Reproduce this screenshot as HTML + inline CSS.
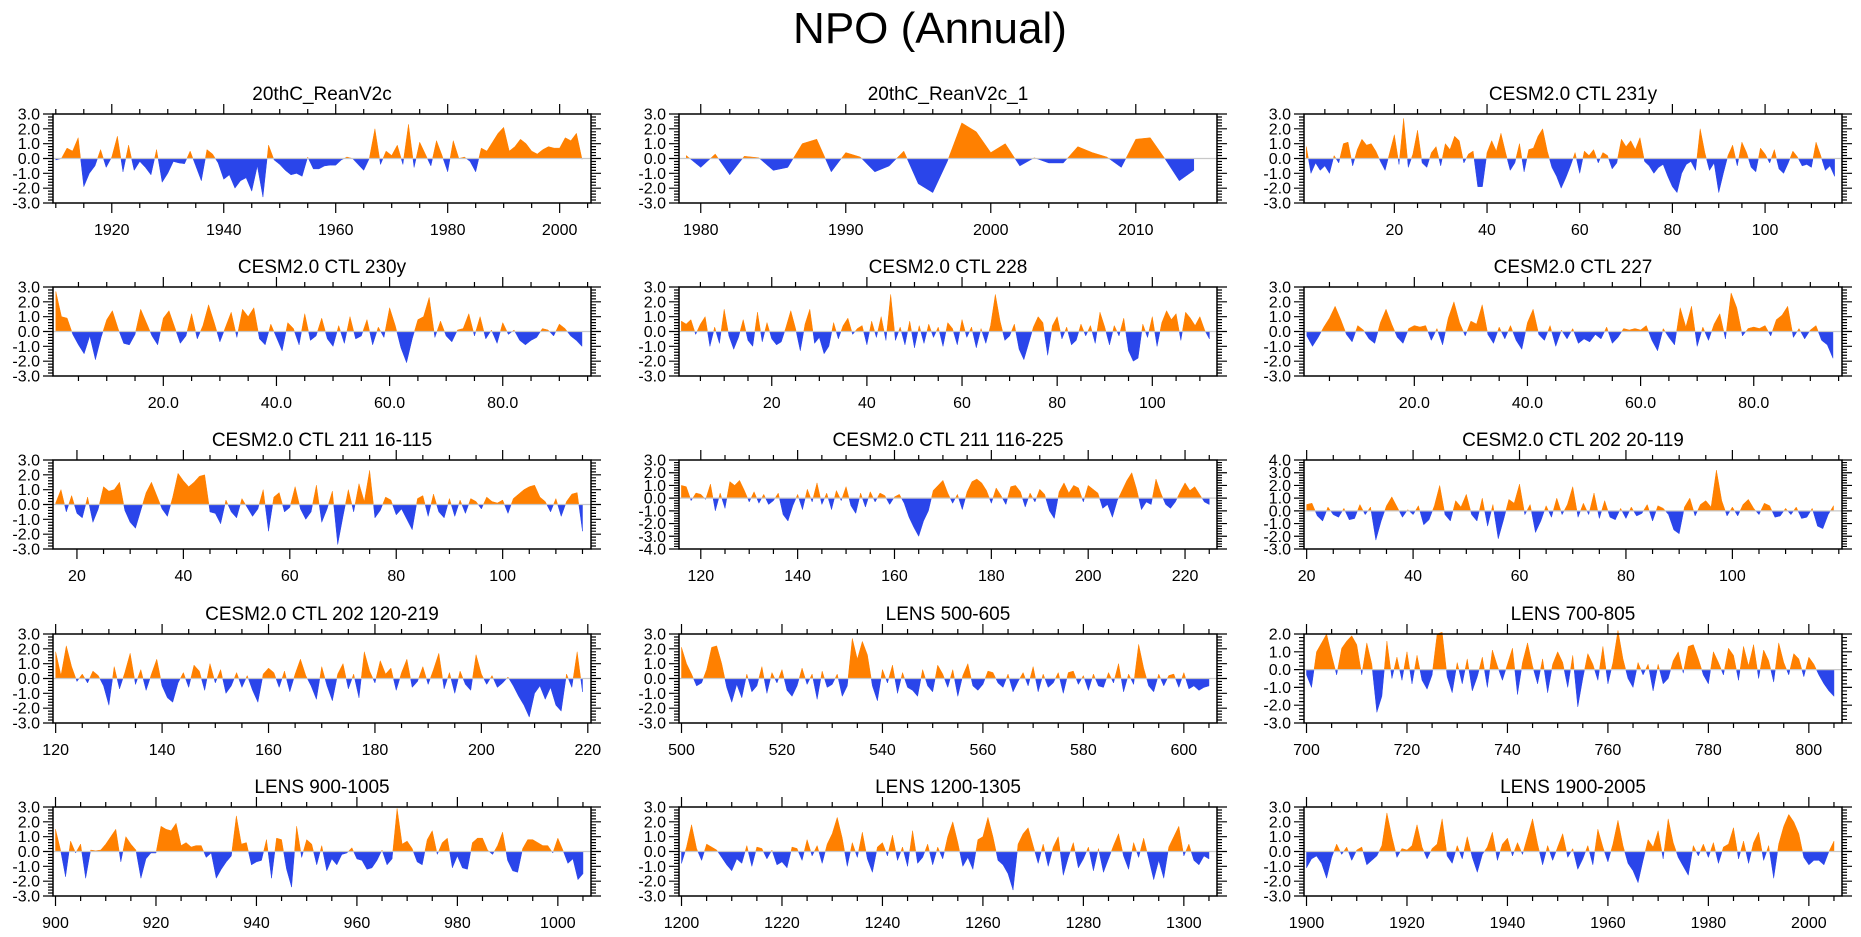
<!DOCTYPE html>
<html><head><meta charset="utf-8"><title>NPO (Annual)</title>
<style>html,body{margin:0;padding:0;background:#fff}svg{display:block}text{font-family:"Liberation Sans",Arial,sans-serif;fill:#000}</style>
</head><body>
<svg id="chart" width="1861" height="937" viewBox="0 0 1861 937" xmlns="http://www.w3.org/2000/svg">
<rect width="1861" height="937" fill="#fff"/>
<text x="930" y="43" font-size="44" text-anchor="middle">NPO (Annual)</text>
</svg>
<script>
const panelTitles = ["20thC_ReanV2c","20thC_ReanV2c_1","CESM2.0 CTL 231y","CESM2.0 CTL 230y","CESM2.0 CTL 228","CESM2.0 CTL 227","CESM2.0 CTL 211 16-115","CESM2.0 CTL 211 116-225","CESM2.0 CTL 202 20-119","CESM2.0 CTL 202 120-219","LENS 500-605","LENS 700-805","LENS 900-1005","LENS 1200-1305","LENS 1900-2005"];
const panelStarts = [1910,1979,1,1,1,1,16,116,20,120,500,700,900,1200,1900];
const panelEnds = [2004,2014,115,94,112,94,115,225,119,219,605,805,1005,1305,2005];
const yMins = [-3,-3,-3,-3,-3,-3,-3,-4,-3,-3,-3,-3,-3,-3,-3];
const yMaxs = [3,3,3,3,3,3,3,3,4,3,3,2,3,3,3];
const xMajorTicks = [
 [1920,1940,1960,1980,2000],[1980,1990,2000,2010],[20,40,60,80,100],[20,40,60,80],[20,40,60,80,100],[20,40,60,80],
 [20,40,60,80,100],[120,140,160,180,200,220],[20,40,60,80,100],[120,140,160,180,200,220],[500,520,540,560,580,600],
 [700,720,740,760,780,800],[900,920,940,960,980,1000],[1200,1220,1240,1260,1280,1300],[1900,1920,1940,1960,1980,2000]];
const xTickDecimals = [0,0,0,1,0,1,0,0,0,0,0,0,0,0,0];
const xMinorSteps = [5,2,5,5,5,5,5,5,5,5,5,5,5,5,5];

const p1Values = [-0.1,0.0,0.7,0.5,1.4,-1.9,-1.0,-0.5,0.6,-0.6,0.1,1.5,-0.9,0.9,-0.8,-0.2,-0.6,-1.1,0.6,-1.6,-1.0,-0.2,-0.3,-0.35,0.5,-0.5,-1.5,0.6,0.3,-0.3,-1.4,-1.1,-2.0,-1.5,-1.3,-2.2,-0.5,-2.6,0.9,-0.1,-0.4,-0.8,-1.1,-1.0,-1.2,0.1,-0.7,-0.7,-0.5,-0.45,-0.45,-0.1,0.1,0.0,-0.4,-0.8,0.0,2.0,-0.4,0.5,0.2,0.9,-0.4,2.3,-0.6,1.1,0.3,-0.5,1.2,0.2,-0.9,1.2,0.0,0.1,-0.2,-0.9,0.7,0.5,1.1,1.7,2.1,0.5,0.8,1.3,1.0,0.5,0.3,0.6,0.8,0.7,0.7,1.4,1.2,1.7,-0.05];
const p2Values = [0.2,-0.6,0.3,-1.1,0.15,0.05,-0.8,-0.6,1.0,1.3,-0.9,0.4,0.1,-0.9,-0.5,0.5,-1.7,-2.3,-0.2,2.4,1.8,0.4,1.0,-0.5,0.05,-0.3,-0.3,0.8,0.4,0.1,-0.6,1.3,1.4,0.0,-1.5,-0.8];
const p3Values = [0.8,-1.0,-0.3,-0.8,-0.5,-1.0,0.2,-0.3,1.0,1.1,-0.5,0.6,1.3,0.9,1.0,0.5,-0.2,-0.8,0.4,1.6,-0.4,2.7,-0.6,0.3,1.9,-0.3,-0.6,0.4,0.8,-0.5,1.0,0.6,1.5,1.2,-0.3,0.3,0.5,-1.9,-1.9,0.4,1.2,0.5,1.7,0.4,-0.8,-0.3,1.0,-0.9,0.6,0.7,1.5,2.0,0.5,-0.6,-1.2,-2.0,-1.3,-0.5,0.4,-1.0,0.5,0.2,0.6,-0.3,0.4,0.2,-0.7,-0.3,1.3,0.8,1.2,0.6,1.4,-0.2,-0.5,-1.0,-0.6,-0.4,-1.2,-1.9,-2.3,-1.0,-0.4,-0.2,-0.8,2.0,0.4,-0.8,-0.3,-2.3,-1.0,0.2,0.9,-0.5,1.1,0.4,-0.6,-0.9,0.7,0.3,-0.3,0.6,-0.7,-1.0,-0.3,0.5,0.1,-0.5,-0.4,-0.6,1.1,0.2,-0.8,-0.5,-1.2];
const p4Values = [2.7,1.0,0.9,-0.2,-0.9,-1.5,-0.3,-1.9,-0.4,0.8,1.4,0.2,-0.8,-0.9,-0.2,1.5,0.6,-0.3,-0.9,0.9,1.4,0.3,-0.8,-0.3,1.2,-0.5,0.4,1.8,0.6,-0.7,0.3,1.3,-0.4,1.5,1.0,1.6,-0.5,-0.9,0.5,-0.4,-1.3,0.6,0.2,-0.9,1.2,-0.6,-0.3,0.9,-0.5,-1.0,0.4,-0.8,1.0,-0.5,-0.3,0.8,-0.9,0.3,-0.4,1.6,0.4,-1.1,-2.1,-0.5,0.8,1.0,2.3,-0.4,0.7,-0.3,-0.7,0.1,0.2,1.2,-0.3,1.0,-0.5,0.1,-0.8,0.6,-0.2,0.1,-0.6,-0.9,-0.6,-0.4,0.2,0.1,-0.3,0.5,0.2,-0.3,-0.6,-1.0];
const p5Values = [0.7,0.5,0.8,-0.2,0.5,1.0,-1.0,0.3,-0.8,1.5,-0.3,-1.2,-0.4,0.8,-0.6,-1.0,1.3,-0.7,0.6,-0.5,-0.9,-0.7,0.3,1.4,0.2,-1.3,0.5,1.5,-0.8,-0.4,-1.5,-1.0,0.6,-0.5,0.4,0.9,-0.2,0.2,0.4,-0.9,0.7,-0.4,1.0,-0.6,2.5,-0.6,0.3,-0.9,0.7,-1.1,0.4,-0.8,0.5,-0.4,0.3,-1.0,0.6,0.2,-0.9,0.8,-0.4,0.3,-1.1,0.2,-0.8,0.4,2.5,0.7,-0.6,-0.3,0.5,-1.2,-1.9,-0.8,0.3,1.0,0.6,-1.6,0.4,1.0,-0.5,0.3,-0.9,-0.6,0.5,-0.3,0.4,-0.8,1.3,0.3,-0.9,0.4,-0.3,0.9,-1.3,-2.0,-1.8,0.5,-0.4,1.0,-1.0,0.6,1.4,0.8,1.2,-0.6,1.3,0.9,0.4,1.0,0.1,-0.5];
const p6Values = [-0.3,-1.0,-0.4,0.3,0.9,1.7,0.8,-0.2,-0.7,0.4,0.1,-0.5,-0.8,0.6,1.5,0.5,-0.4,-0.8,0.2,0.4,0.3,0.4,-0.6,0.2,-0.9,0.9,2.0,0.6,-0.3,0.7,0.5,1.8,-0.2,-0.8,0.3,-0.5,0.4,-0.6,-1.2,0.6,1.5,-0.2,-0.6,0.4,-1.0,0.1,-0.5,0.2,-0.8,-0.5,-0.7,-0.2,-0.5,0.3,-0.8,-0.4,0.2,0.1,0.2,0.1,0.4,-0.6,-1.3,0.2,-0.4,-0.9,1.6,0.3,1.7,-1.0,0.3,-0.6,0.5,1.2,-0.5,2.6,1.6,-0.3,0.2,0.3,0.2,0.4,-0.3,0.8,1.1,1.7,-0.4,0.2,-0.5,0.1,0.4,-0.6,-0.9,-1.8];
const p7Values = [0.1,1.0,-0.5,0.6,-0.6,-0.9,0.5,-1.2,-0.3,1.2,0.9,1.0,1.5,-0.4,-1.2,-1.6,-0.4,0.8,1.5,0.6,-0.3,-0.8,0.5,2.1,1.6,1.2,1.5,1.9,2.0,-0.5,-0.6,-1.3,0.3,-0.5,-0.9,0.4,-0.2,-0.8,-0.3,1.0,-1.8,0.5,0.8,-0.5,-0.2,1.2,-0.3,-1.0,-0.5,1.3,-1.2,-0.3,0.9,-2.7,-0.8,1.0,-0.5,1.4,0.2,2.3,-0.9,-0.4,0.5,0.3,-0.7,-0.3,-1.0,-1.7,0.4,0.6,-0.8,0.7,-0.5,-0.9,0.4,-0.8,0.3,-0.6,0.4,0.2,-0.3,0.5,0.2,0.1,0.3,-0.6,0.4,0.7,1.0,1.2,1.3,0.5,0.2,-0.5,0.4,-0.8,0.2,0.7,0.8,-1.8];
const p8Values = [1.0,0.9,-0.2,0.4,0.3,-0.1,1.1,-1.0,0.4,-0.8,1.3,1.0,1.4,0.6,-0.3,0.5,-0.4,0.3,-0.5,-0.2,0.4,-1.3,-1.8,-0.6,0.3,-0.9,0.7,-0.3,1.2,-0.5,0.4,-0.9,0.6,-0.2,0.9,-0.6,-1.2,0.4,-0.7,0.5,-0.3,0.4,0.2,-0.5,0.1,0.3,-0.4,-1.5,-2.3,-3.0,-1.8,-1.0,0.6,1.0,1.4,0.4,-0.4,0.3,-0.9,0.5,1.3,1.5,1.2,0.6,-0.4,0.8,0.2,-0.5,0.9,1.0,0.5,-0.7,0.4,-0.3,0.7,0.3,-1.0,-1.6,0.5,1.2,0.4,1.0,0.8,-0.3,1.0,0.7,0.4,-0.8,-0.5,-1.5,-0.2,0.6,1.4,2.0,0.7,-0.9,-0.3,-0.5,1.5,0.4,-0.5,-0.8,-0.3,0.5,1.2,0.6,0.9,0.3,-0.3,-0.5];
const p9Values = [0.5,0.6,-0.4,-0.8,0.3,-0.3,-0.5,0.2,-0.7,-0.6,0.5,-0.3,0.3,-2.3,-0.8,0.4,1.1,0.3,-0.5,0.1,-0.3,0.4,-1.1,-0.7,0.4,2.0,-0.3,-0.8,0.8,0.3,1.3,-0.3,-0.8,1.0,-1.2,0.5,-2.2,-0.7,0.9,0.6,2.1,-0.3,0.5,-1.7,-0.8,0.4,-0.5,1.0,-0.3,0.5,1.9,-0.5,0.6,-0.3,1.4,-0.6,0.8,-0.5,-0.7,0.2,-0.6,0.3,-0.4,-0.2,0.5,-0.8,0.4,0.2,-0.3,-1.5,-1.8,0.3,1.0,-0.4,0.5,0.8,0.3,3.2,0.8,-0.4,0.3,-0.4,0.5,0.9,0.2,-0.3,0.6,0.4,-0.5,-0.4,0.2,-0.3,0.3,-0.6,-0.5,0.2,-1.2,-1.4,-0.3,0.4];
const p10Values = [1.8,0.2,2.2,0.8,-0.2,0.3,-0.3,0.5,0.2,-0.5,-1.8,0.8,-0.7,0.4,1.7,-0.4,0.6,-0.8,0.3,1.3,-0.5,-1.3,-1.6,-0.3,0.4,-0.6,0.9,0.5,-0.8,1.0,-0.3,0.6,-1.0,-0.5,0.4,-0.6,0.2,-0.8,-1.6,0.3,0.7,0.4,-0.6,0.5,-0.9,0.3,1.3,0.2,-0.5,-1.4,0.8,-0.5,-1.5,0.3,1.0,-0.7,0.3,-1.3,1.8,0.5,-0.3,1.2,0.3,0.7,-0.8,0.4,1.3,-0.6,-0.2,0.8,-0.4,0.6,1.7,-0.7,0.4,-1.0,0.5,-0.4,-0.8,1.6,0.3,-0.4,0.2,-0.6,-0.3,0.1,-0.5,-1.2,-1.8,-2.6,-1.0,-0.5,-1.4,-0.6,-1.8,-2.2,0.3,-0.6,1.8,-0.9];
const p11Values = [2.1,1.0,0.3,-0.5,-0.3,0.6,2.1,2.2,1.0,-0.6,-1.6,-0.4,-1.3,0.3,-0.9,-0.5,0.8,-1.0,0.4,-0.3,0.6,-0.8,-1.2,-0.5,0.7,-0.4,0.3,-1.4,0.5,-0.6,-0.4,0.3,-1.2,-0.5,2.7,1.3,2.5,1.6,-0.5,-1.5,0.6,-0.3,0.9,-1.0,0.4,-0.6,-0.8,-1.2,0.6,-0.5,-0.9,0.9,0.3,-0.6,0.6,-1.2,0.2,1.0,-0.5,-0.8,-0.4,0.5,0.4,-0.3,-0.6,0.3,-0.9,-0.2,0.4,-0.5,0.8,-0.9,0.3,-0.6,-0.3,0.4,-1.0,0.4,0.5,-0.4,0.2,-0.8,0.3,-0.5,-0.6,0.4,-0.3,1.0,-0.9,0.3,-0.4,2.3,0.7,-0.5,-0.9,0.3,-0.5,0.2,0.3,-0.6,0.4,-0.7,-0.5,-0.8,-0.6,-0.5];
const p12Values = [-0.3,-1.0,1.0,1.5,2.0,0.8,-0.3,1.2,1.6,1.9,1.4,-0.3,1.5,0.3,-2.4,-1.5,1.6,-0.5,0.7,-0.6,1.0,-0.8,0.8,-0.6,-1.1,-0.3,2.0,2.1,-0.4,-1.3,0.4,-0.8,0.6,-1.2,-0.4,0.7,-1.0,1.1,0.2,-0.6,0.3,1.2,-1.4,0.4,1.5,0.2,-0.8,0.6,-1.3,0.3,1.0,0.4,-1.0,0.8,-2.1,-0.5,0.9,0.3,-0.6,1.3,-0.8,0.4,2.2,0.6,-0.5,-1.0,0.4,-0.3,0.3,-1.2,0.3,-0.8,-0.5,0.5,1.0,-0.2,1.3,1.4,0.6,-0.3,-0.8,1.0,0.4,-0.3,1.2,0.8,-0.6,1.3,0.2,1.4,-0.5,1.1,0.5,-0.7,1.5,0.4,-0.3,0.9,0.6,-0.4,0.7,0.3,-0.3,-0.8,-1.2,-1.5];
const p13Values = [1.5,0.1,-1.7,0.7,-0.1,0.5,-1.8,0.1,0.05,0.1,0.5,1.0,1.5,-0.7,1.0,0.5,0.1,-1.8,-0.5,-0.1,-0.1,1.7,1.5,1.4,1.9,0.4,0.6,0.3,0.4,0.4,-0.4,-0.1,-1.8,-1.2,-0.7,-0.3,2.4,0.5,0.6,-0.9,-0.7,-0.6,0.8,-1.8,0.9,0.8,-1.2,-2.4,1.7,-0.4,0.8,0.5,-0.9,0.4,-1.3,-0.5,-0.9,-0.2,-0.1,0.25,-0.5,-0.6,-1.2,-1.1,-0.6,0.1,-0.9,-0.5,2.9,0.5,0.7,0.2,-0.7,-0.9,0.8,1.4,-0.2,0.6,0.9,-1.1,-0.3,-1.1,-1.2,0.6,0.9,0.9,0.1,-0.2,0.4,1.3,-0.6,-1.3,-1.4,0.2,0.8,0.8,0.6,0.4,0.4,-0.1,0.9,0.1,-0.8,-0.5,-1.9,-1.5];
const p14Values = [-0.8,0.3,1.8,0.2,-0.6,0.5,0.3,0.1,-0.4,-0.9,-1.3,-0.5,-0.8,0.4,-1.0,0.3,0.2,-0.5,0.1,-0.9,-0.7,-1.1,0.3,0.2,-0.6,0.8,-0.3,0.4,-0.8,0.5,1.2,2.3,0.9,-1.0,0.6,-0.4,1.3,-0.5,-1.4,0.3,0.6,-0.3,1.1,-0.6,0.3,-1.0,1.4,-0.8,-0.4,0.5,-0.9,0.3,-0.5,1.0,2.0,0.6,-1.0,-0.4,-1.2,0.8,1.0,2.3,1.0,-0.6,-0.9,-1.5,-2.6,0.5,1.2,1.6,0.4,-0.8,0.5,-1.0,0.3,1.0,-1.6,-0.4,0.6,-1.1,-0.5,0.3,-1.3,0.2,-1.4,-0.5,0.4,1.2,-0.3,-1.2,0.6,-0.4,0.9,-0.5,-1.9,-0.6,-1.8,0.3,1.0,1.7,-0.3,0.5,-0.6,-0.9,-0.3,-0.5];
const p15Values = [-1.1,-0.5,-0.3,-0.8,-1.8,-0.4,0.5,-0.2,0.3,-0.6,0.1,0.3,-0.9,-0.6,-0.3,0.4,2.6,1.0,-0.4,0.2,0.1,0.4,1.8,0.3,-0.5,0.2,0.5,2.2,-0.3,-0.8,0.4,-0.5,1.0,-0.4,-1.4,-0.2,0.3,1.3,-0.6,0.5,0.9,-0.3,0.6,-0.2,1.0,2.2,0.5,-0.9,0.4,-0.6,0.3,1.2,-0.4,0.2,-1.2,-0.5,0.4,-0.9,1.5,0.3,-0.7,0.5,2.1,0.4,-0.8,-1.3,-2.1,-0.6,0.8,0.3,1.4,-0.5,2.2,0.6,-0.4,-1.0,-1.6,0.4,-0.3,0.5,-0.4,0.6,-0.8,0.3,0.5,1.6,-0.5,0.7,-0.8,0.6,1.3,-0.6,0.4,-1.8,0.5,1.7,2.5,2.0,1.2,-0.4,-0.9,-0.6,-0.6,-0.9,0.0,0.7];
const panelValues = [p1Values,p2Values,p3Values,p4Values,p5Values,p6Values,p7Values,p8Values,p9Values,p10Values,p11Values,p12Values,p13Values,p14Values,p15Values];

const NS = "http://www.w3.org/2000/svg";
const svg = document.getElementById('chart');
const colLefts = [53,679,1304], rowTops = [114,287,460,634,807];
const PW = 538, PH = 89;
function mk(tag, attrs, parent){const e=document.createElementNS(NS,tag);for(const k in attrs)e.setAttribute(k,attrs[k]);parent.appendChild(e);return e;}

panelTitles.forEach((title, p) => {
  const L = colLefts[p%3], T = rowTops[Math.floor(p/3)], R = L+PW, B = T+PH;
  const xmin = panelStarts[p]-0.5, xmax = panelEnds[p]+1.6;
  const ymin = yMins[p], ymax = yMaxs[p];
  const sx = v => L + (v - xmin)/(xmax - xmin)*PW;
  const sy = v => B - (v - ymin)/(ymax - ymin)*PH;
  const g = mk('g', {}, svg);
  
  
  const t = mk('text', {x:(L+R)/2, y:T-14, 'font-size':19, 'text-anchor':'middle'}, g);
  
  
  t.textContent = title;
  const vals = panelValues[p];
  const pts = [];
  vals.forEach((v,i) => {
    const x = panelStarts[p] + i;
    if (i>0) { const pv = vals[i-1]; if ((pv>0 && v<0)||(pv<0 && v>0)) { const f = pv/(pv-v); pts.push([x-1+f, 0]); } }
    pts.push([x, v]);
  });
  if (pts.length) {
    const x0 = pts[0][0], x1 = pts[pts.length-1][0];
    let pos = sx(x0)+','+sy(0)+' ', neg = pos;
    pts.forEach(q => { pos += sx(q[0])+','+sy(Math.max(q[1],0))+' '; neg += sx(q[0])+','+sy(Math.min(q[1],0))+' '; });
    pos += sx(x1)+','+sy(0); neg += sx(x1)+','+sy(0);
    const a = mk('polygon', {points:pos, fill:'#ff8000', stroke:'#ff8000', 'stroke-width':0.5}, g);
    
    
    const b = mk('polygon', {points:neg, fill:'#2a45ea', stroke:'#2a45ea', 'stroke-width':0.5}, g);
    
    
  }
  const z = mk('line', {x1:L, x2:R, y1:sy(0), y2:sy(0), stroke:'#c8c8c8', 'stroke-width':1.2}, g);
  
  
  const fr = mk('rect', {x:L, y:T, width:PW, height:PH, fill:'none', stroke:'#000', 'stroke-width':1.5}, g);
  
  
  let tk = '';
  for (let k = Math.round(ymin*5); k <= Math.round(ymax*5); k++) {
    const y = sy(k/5), len = (k%5===0) ? 10 : 5;
    tk += `M${L},${y}H${L-len}M${R},${y}H${R+len}`;
  }
  for (let v = ymin; v <= ymax; v++) {
    const yl = mk('text', {x:L-13, y:sy(v)+5.5, 'font-size':16, 'text-anchor':'end'}, g);
    
    
    yl.textContent = v.toFixed(1);
  }
  const step = xMinorSteps[p];
  for (let v = Math.ceil(xmin/step)*step; v <= xmax; v += step) {
    const x = sx(v), major = xMajorTicks[p].includes(v), len = major ? 10 : 5;
    tk += `M${x},${B}V${B+len}M${x},${T}V${T-len}`;
  }
  const tp = mk('path', {d:tk, stroke:'#000', 'stroke-width':1.2, fill:'none'}, g);
  
  
  xMajorTicks[p].forEach(v => {
    const xl = mk('text', {x:sx(v), y:B+32, 'font-size':16, 'text-anchor':'middle'}, g);
    
    
    xl.textContent = v.toFixed(xTickDecimals[p]);
  });
});
</script>
</body></html>
